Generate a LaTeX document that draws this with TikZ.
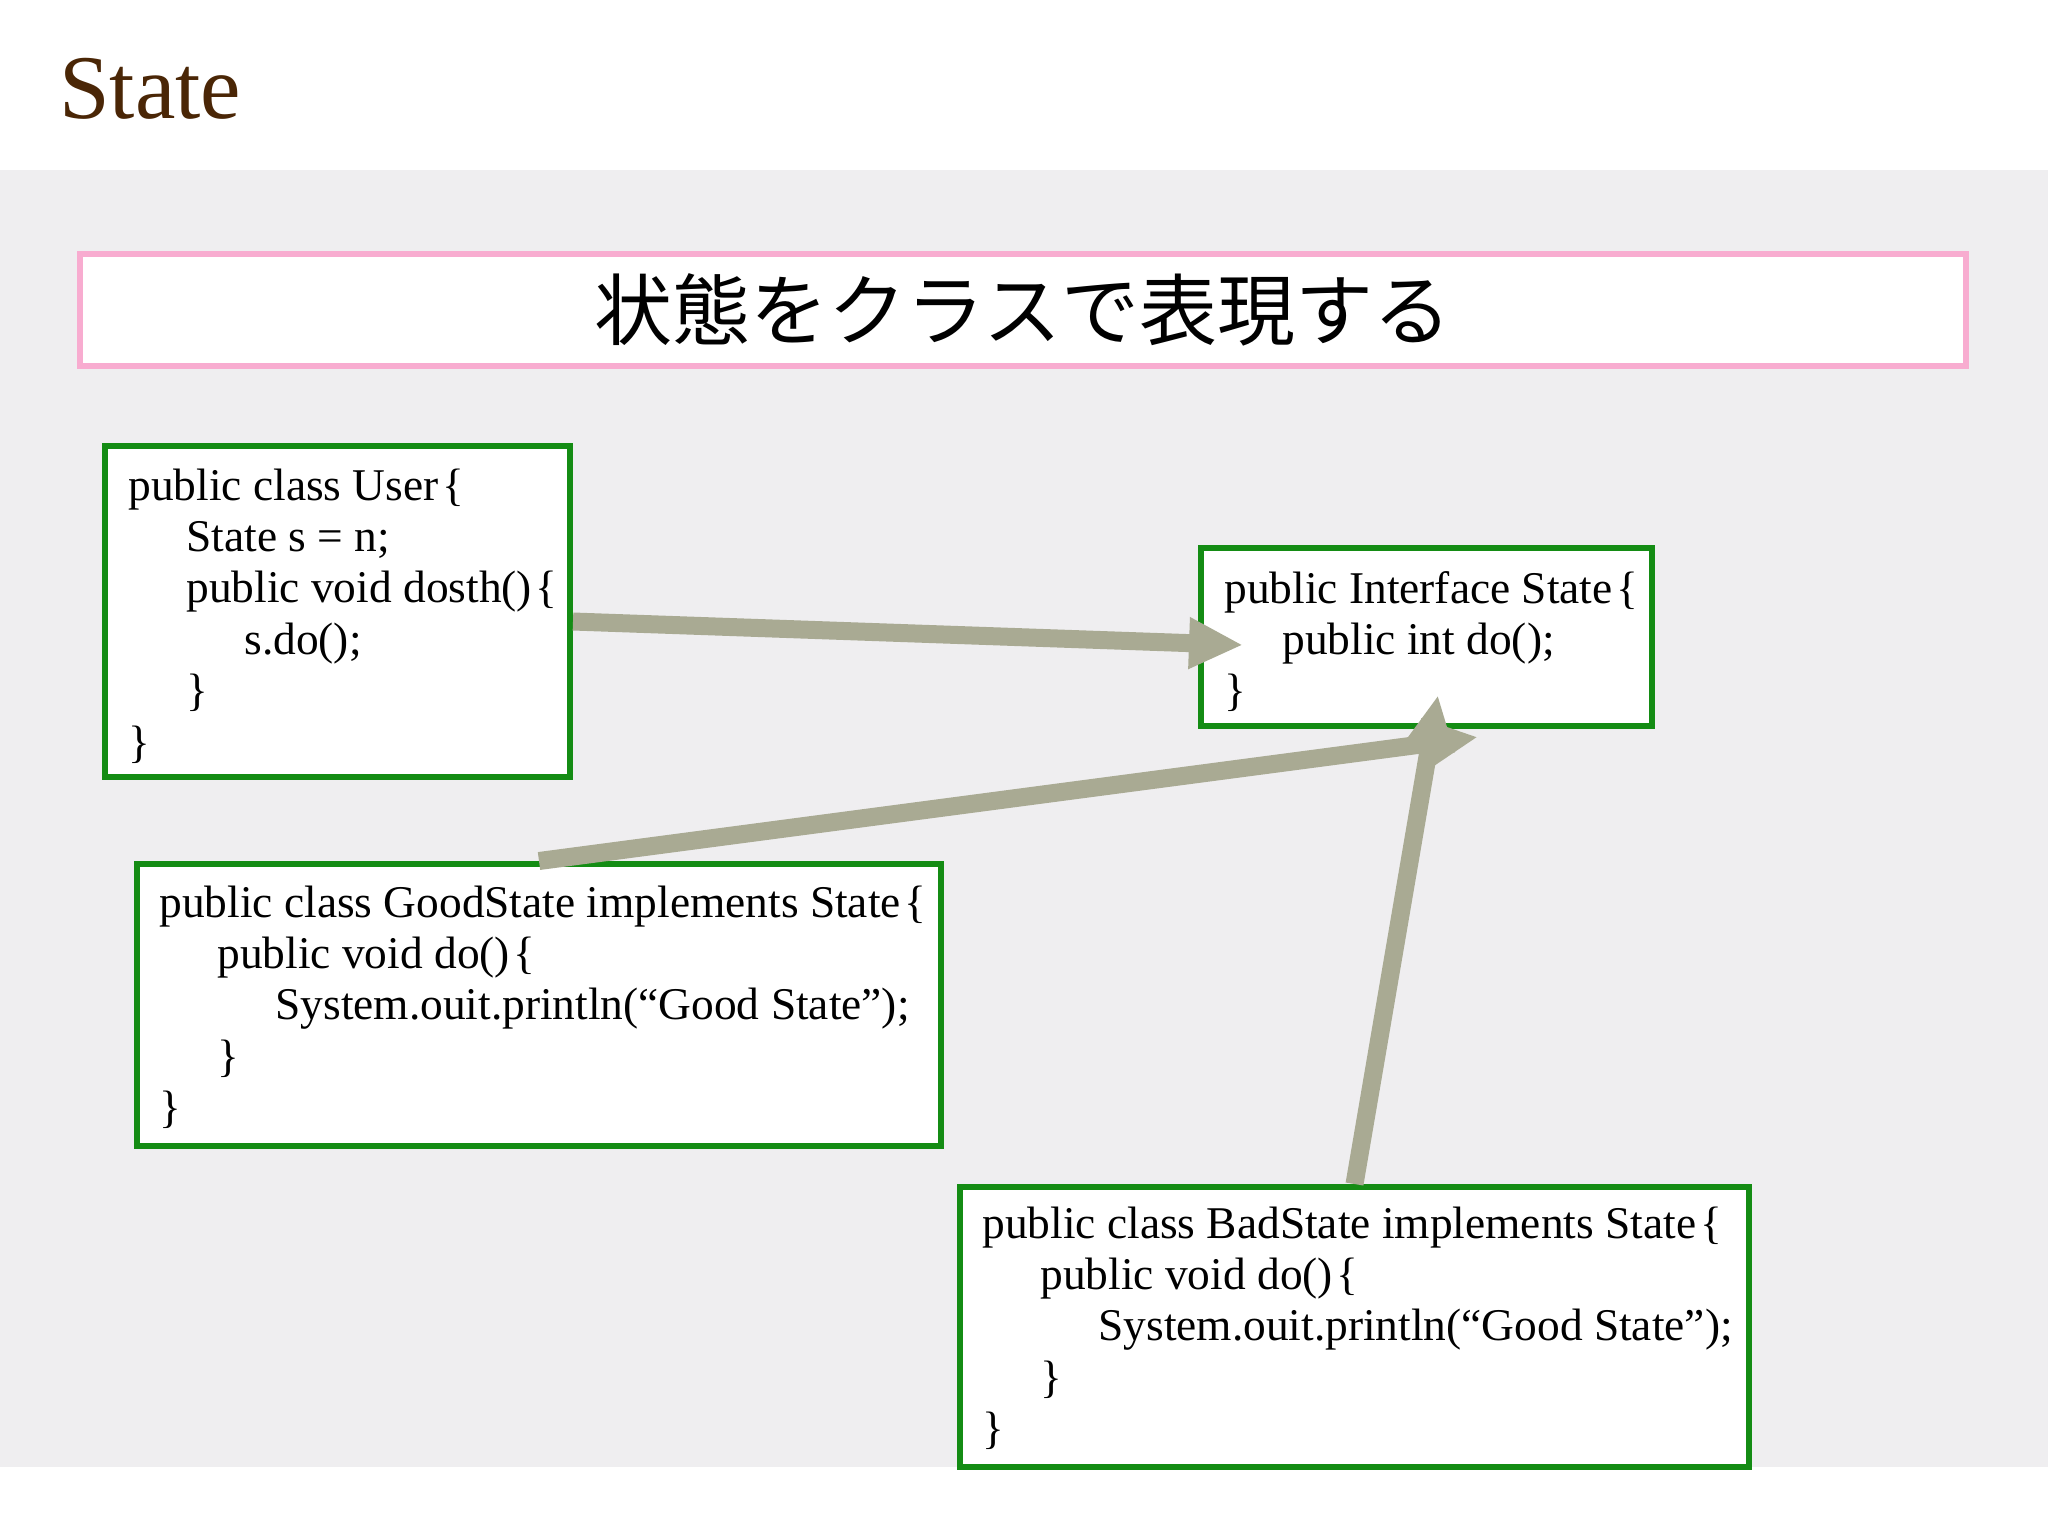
\documentclass[tikz,border=0pt]{standalone}
\usepackage{fontspec}
\setmainfont{Liberation Serif}
\newfontfamily\jpfont{Noto Sans CJK JP}
\usetikzlibrary{arrows.meta,calc}
\definecolor{bandgrey}{RGB}{239,238,240}
\definecolor{titlebrown}{RGB}{74,38,6}
\definecolor{pinkline}{RGB}{248,172,208}
\definecolor{boxgreen}{RGB}{20,140,20}
\definecolor{arrowgrey}{RGB}{169,170,147}
\newcommand\codeln[5]{\node[codetext] (#1) at ({#2+#4*58},#3) {#5};}
\begin{document}
\begin{tikzpicture}[x=0.5pt,y=-0.5pt,
  codetext/.style={anchor=base west,inner sep=0pt,font=\fontsize{22.7pt}{25.8pt}\selectfont},
  codebox/.style={draw=boxgreen,line width=3pt,fill=white,inner sep=0pt},
  banner/.style={draw=pinkline,line width=3pt,fill=white,inner sep=0pt},
  conn/.style={draw=arrowgrey,line width=9pt,-{Triangle[length=27pt,width=24pt]}}]
\useasboundingbox (0,0) rectangle (2048,1536);
\fill[white] (0,0) rectangle (2048,1536);
\fill[bandgrey] (0,170) rectangle (2048,1467);
% title
\node[anchor=base west,inner sep=0pt,text=titlebrown,font=\fontsize{45.5pt}{48pt}\selectfont] (title) at (59,119) {State};
% banner
\node[banner,minimum width=943pt,minimum height=56pt] (banner) at (1023,309.5) {};
\node[inner sep=0pt,font=\jpfont\fontsize{39pt}{42pt}\selectfont] (bannertext) at (1023,309.5) {状態をクラスで表現する};
% boxes
\node[codebox,minimum width=232.5pt,minimum height=165.5pt] (user) at (337.5,611.5) {};
\node[codebox,minimum width=225.5pt,minimum height=89pt] (iface) at (1426.5,637) {};
\node[codebox,minimum width=402pt,minimum height=141pt] (good) at (539,1005) {};
\node[codebox,minimum width=394.5pt,minimum height=140pt] (bad) at (1354.5,1327) {};
% User
\codeln{u0}{128}{500}{0}{public class User\kern2pt\{}
\codeln{u1}{128}{551.4}{1}{State s = n;}
\codeln{u2}{128}{602.8}{1}{public void dosth()\kern2pt\{}
\codeln{u3}{128}{654.2}{2}{s.do();}
\codeln{u4}{128}{705.6}{1}{\}}
\codeln{u5}{128}{757}{0}{\}}
% Interface
\codeln{i0}{1224}{603}{0}{public Interface State\kern2pt\{}
\codeln{i1}{1224}{654.4}{1}{public int do();}
\codeln{i2}{1224}{705.8}{0}{\}}
% GoodState
\codeln{g0}{159}{917}{0}{public class GoodState implements State\kern2pt\{}
\codeln{g1}{159}{968.4}{1}{public void do()\kern2pt\{}
\codeln{g2}{159}{1019.8}{2}{System.ouit.println(“Good State”);}
\codeln{g3}{159}{1071.2}{1}{\}}
\codeln{g4}{159}{1122.6}{0}{\}}
% BadState
\codeln{b0}{982}{1238}{0}{public class BadState implements State\kern2pt\{}
\codeln{b1}{982}{1289.4}{1}{public void do()\kern2pt\{}
\codeln{b2}{982}{1340.8}{2}{System.ouit.println(“Good State”);}
\codeln{b3}{982}{1392.2}{1}{\}}
\codeln{b4}{982}{1443.6}{0}{\}}
% connectors
\coordinate (tipA) at ($(iface.west)+(45,8)$);
\coordinate (tipB) at ($(iface.south)+(51.5,8)$);
\coordinate (tipC) at ($(iface.south)+(11.5,-34)$);
\draw[conn] ($(user.east)+(0,10)$) -- (tipA);
\draw[conn] (good.north) -- (tipB);
\draw[conn] (bad.north) -- (tipC);
\end{tikzpicture}
\end{document}
